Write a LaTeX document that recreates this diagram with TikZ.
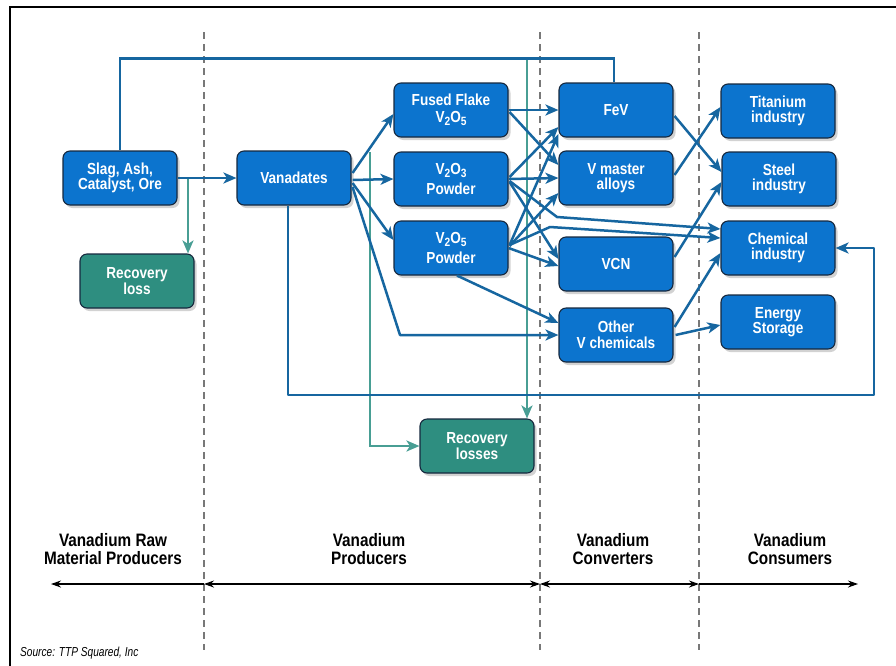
\documentclass[tikz,border=0pt]{standalone}
\usepackage{fontspec}
\setmainfont{Liberation Sans}[FakeStretch=0.85]
\newfontfamily\srcfont{Liberation Sans}[FakeStretch=0.78]
\usetikzlibrary{arrows.meta,shadows,calc}
\definecolor{boxblue}{RGB}{12,116,206}
\definecolor{boxteal}{RGB}{46,142,128}
\definecolor{lineblue}{RGB}{22,102,160}
\definecolor{lineteal}{RGB}{72,158,148}
\definecolor{boxedge}{RGB}{22,40,62}
\definecolor{dashgray}{RGB}{120,120,120}
\newcommand\mysub[1]{\raisebox{-3pt}{\fontsize{12}{12}\selectfont #1}}
\tikzset{
  box/.style={rectangle, rounded corners=7pt, minimum width=114pt, minimum height=54pt,
    inner sep=0pt, draw=boxedge, line width=1.1pt, fill=boxblue, text=white,
    font=\fontsize{16}{15.5}\selectfont\bfseries, align=center,
    drop shadow={shadow xshift=2.5pt, shadow yshift=-3pt, opacity=0.35}},
  lossbox/.style={box, fill=boxteal},
  flow/.style={draw=lineblue, line width=2.5pt, line join=round,
    -{Stealth[length=13pt,width=11pt,inset=3.5pt]}},
  flowplain/.style={draw=lineblue, line width=2.5pt},
  lossflow/.style={draw=lineteal, line width=2.3pt,
    -{Stealth[length=13pt,width=11pt,inset=3.5pt]}},
  divider/.style={draw=dashgray, line width=1.3pt, dash pattern=on 7pt off 5pt},
  rangearrow/.style={draw=black, line width=1.1pt},
  rtip/.style={-{Stealth[length=10pt,width=7pt]}},
  btip/.style={{Stealth[length=10pt,width=7pt]}-{Stealth[length=10pt,width=7pt]}},
  phaselabel/.style={font=\fontsize{18}{18.5}\selectfont\bfseries, align=center},
}
\begin{document}
\begin{tikzpicture}[x=1pt,y=-1pt]
\useasboundingbox (0,0) rectangle (896,665);
\clip (0,0) rectangle (896,665);
\fill[white] (0,0) rectangle (896,665);
% frame
\draw[line width=2.5pt] (10,680) -- (10,7) -- (910,7);

% dividers
\coordinate (d1t) at (204,32); \coordinate (d1b) at (204,650);
\coordinate (d2t) at (540,32); \coordinate (d2b) at (540,650);
\coordinate (d3t) at (699,32); \coordinate (d3b) at (699,650);
\draw[divider] (d1t) -- (d1b);
\draw[divider] (d2t) -- (d2b);
\draw[divider] (d3t) -- (d3b);

% boxes
\node[box] (slag) at (120,178) {Slag, Ash,\\Catalyst, Ore};
\node[lossbox] (loss1) at (137,281) {Recovery\\loss};
\node[box] (van) at (294,178) {Vanadates};
\node[box] (ff) at (451,110) {Fused Flake\\[1pt]V\mysub{2}O\mysub{5}};
\node[box] (v2o3) at (451,179) {V\mysub{2}O\mysub{3}\\[4pt]Powder};
\node[box] (v2o5) at (451,248) {V\mysub{2}O\mysub{5}\\[4pt]Powder};
\node[box] (fev) at (616,110) {FeV};
\node[box] (vma) at (616,178) {V master\\alloys};
\node[box] (vcn) at (616,264) {VCN};
\node[box] (oth) at (616,335) {Other\\V chemicals};
\node[box] (ti) at (778,111) {Titanium\\industry};
\node[box] (st) at (779,179) {Steel\\industry};
\node[box] (ch) at (778,248) {Chemical\\industry};
\node[box] (en) at (778,322) {Energy\\Storage};
\node[lossbox] (loss2) at (477,446) {Recovery\\losses};

% teal loss flows
\coordinate (t0) at (188,178);
\coordinate (t1) at (370,152);
\coordinate (t2) at (527,60);
\draw[lossflow] (t0) -- (t0 |- loss1.north);
\draw[lossflow] (t1) |- (loss2.west);
\draw[lossflow] (t2) -- (t2 |- loss2.north);

% raw material flows
\draw[flow] (slag.east) -- (van.west);
\draw[flowplain] (slag.north) -- ++(0,-92) -| ($(fev.north)+(-2,0)$);

% vanadates fan
\coordinate (vobend) at (400,335);
\draw[flow] ($(van.east)+(1,-5)$) -- ($(ff.west)+(0,4)$);
\draw[flow] ($(van.east)+(1,2)$) -- (v2o3.west);
\draw[flow] ($(van.east)+(1,5)$) -- ($(v2o5.west)+(0,-8)$);
\draw[flow] ($(van.east)+(1,9)$) -- (vobend) -- (oth.west);
\coordinate (loopc) at (874,395);
\draw[flow] ($(van.south)+(-6,0)$) |- (loopc) |- (ch.east);

% oxides to converters
\coordinate (cb1) at (557,217);
\coordinate (cb2) at (550,227);
\draw[flow] (ff.east) -- (fev.west);
\draw[flow] ($(ff.east)+(1,2)$) -- ($(vma.west)+(0,-13)$);
\draw[flow] ($(v2o3.east)+(1,-2)$) -- ($(fev.west)+(0,17)$);
\draw[flow] (v2o3.east) -- (vma.west);
\draw[flow] ($(v2o3.east)+(1,2)$) -- (cb1) -- ($(ch.west)+(0,-19)$);
\draw[flow] ($(v2o3.east)+(1,3)$) -- ($(vcn.west)+(0,-5)$);
\draw[flow] ($(v2o5.east)+(1,-3)$) -- ($(fev.west)+(0,24)$);
\draw[flow] ($(v2o5.east)+(1,-2)$) -- ($(vma.west)+(0,15)$);
\draw[flow] ($(v2o5.east)+(1,-3)$) -- (cb2) -- ($(ch.west)+(0,-10)$);
\draw[flow] (v2o5.east) -- ($(vcn.west)+(0,2)$);
\draw[flow] ($(v2o5.south)+(6,0)$) -- ($(oth.west)+(0,-12)$);

% converters to consumers
\draw[flow] ($(fev.east)+(1,6)$) -- ($(st.west)+(0,-7)$);
\draw[flow] ($(vma.east)+(1,-3)$) -- ($(ti.west)+(0,-4)$);
\draw[flow] ($(vcn.east)+(1,-7)$) -- ($(st.west)+(0,3)$);
\draw[flow] ($(oth.east)+(1,-8)$) -- ($(ch.west)+(0,5)$);
\draw[flow] ($(oth.east)+(2,0)$) -- ($(en.west)+(0,3)$);

% phase labels and ranges
\node[phaselabel] (p1) at (113,549) {Vanadium Raw\\Material Producers};
\node[phaselabel] (p2) at (369,549) {Vanadium\\Producers};
\node[phaselabel] (p3) at (613,549) {Vanadium\\Converters};
\node[phaselabel] (p4) at (790,549) {Vanadium\\Consumers};
\coordinate (r0) at (51,584);
\coordinate (r1) at (204,584);
\coordinate (r2) at (540,584);
\coordinate (r3) at (699,584);
\coordinate (r4) at (858,584);
\draw[rangearrow, rtip] (r1) -- (r0);
\draw[rangearrow, btip] (r1) -- (r2);
\draw[rangearrow, btip] (r2) -- (r3);
\draw[rangearrow, rtip] (r3) -- (r4);

\node[anchor=west, font=\srcfont\itshape\fontsize{13}{13}\selectfont, inner sep=0pt] (src) at (20,653) {Source: TTP Squared, Inc};
\end{tikzpicture}
\end{document}
